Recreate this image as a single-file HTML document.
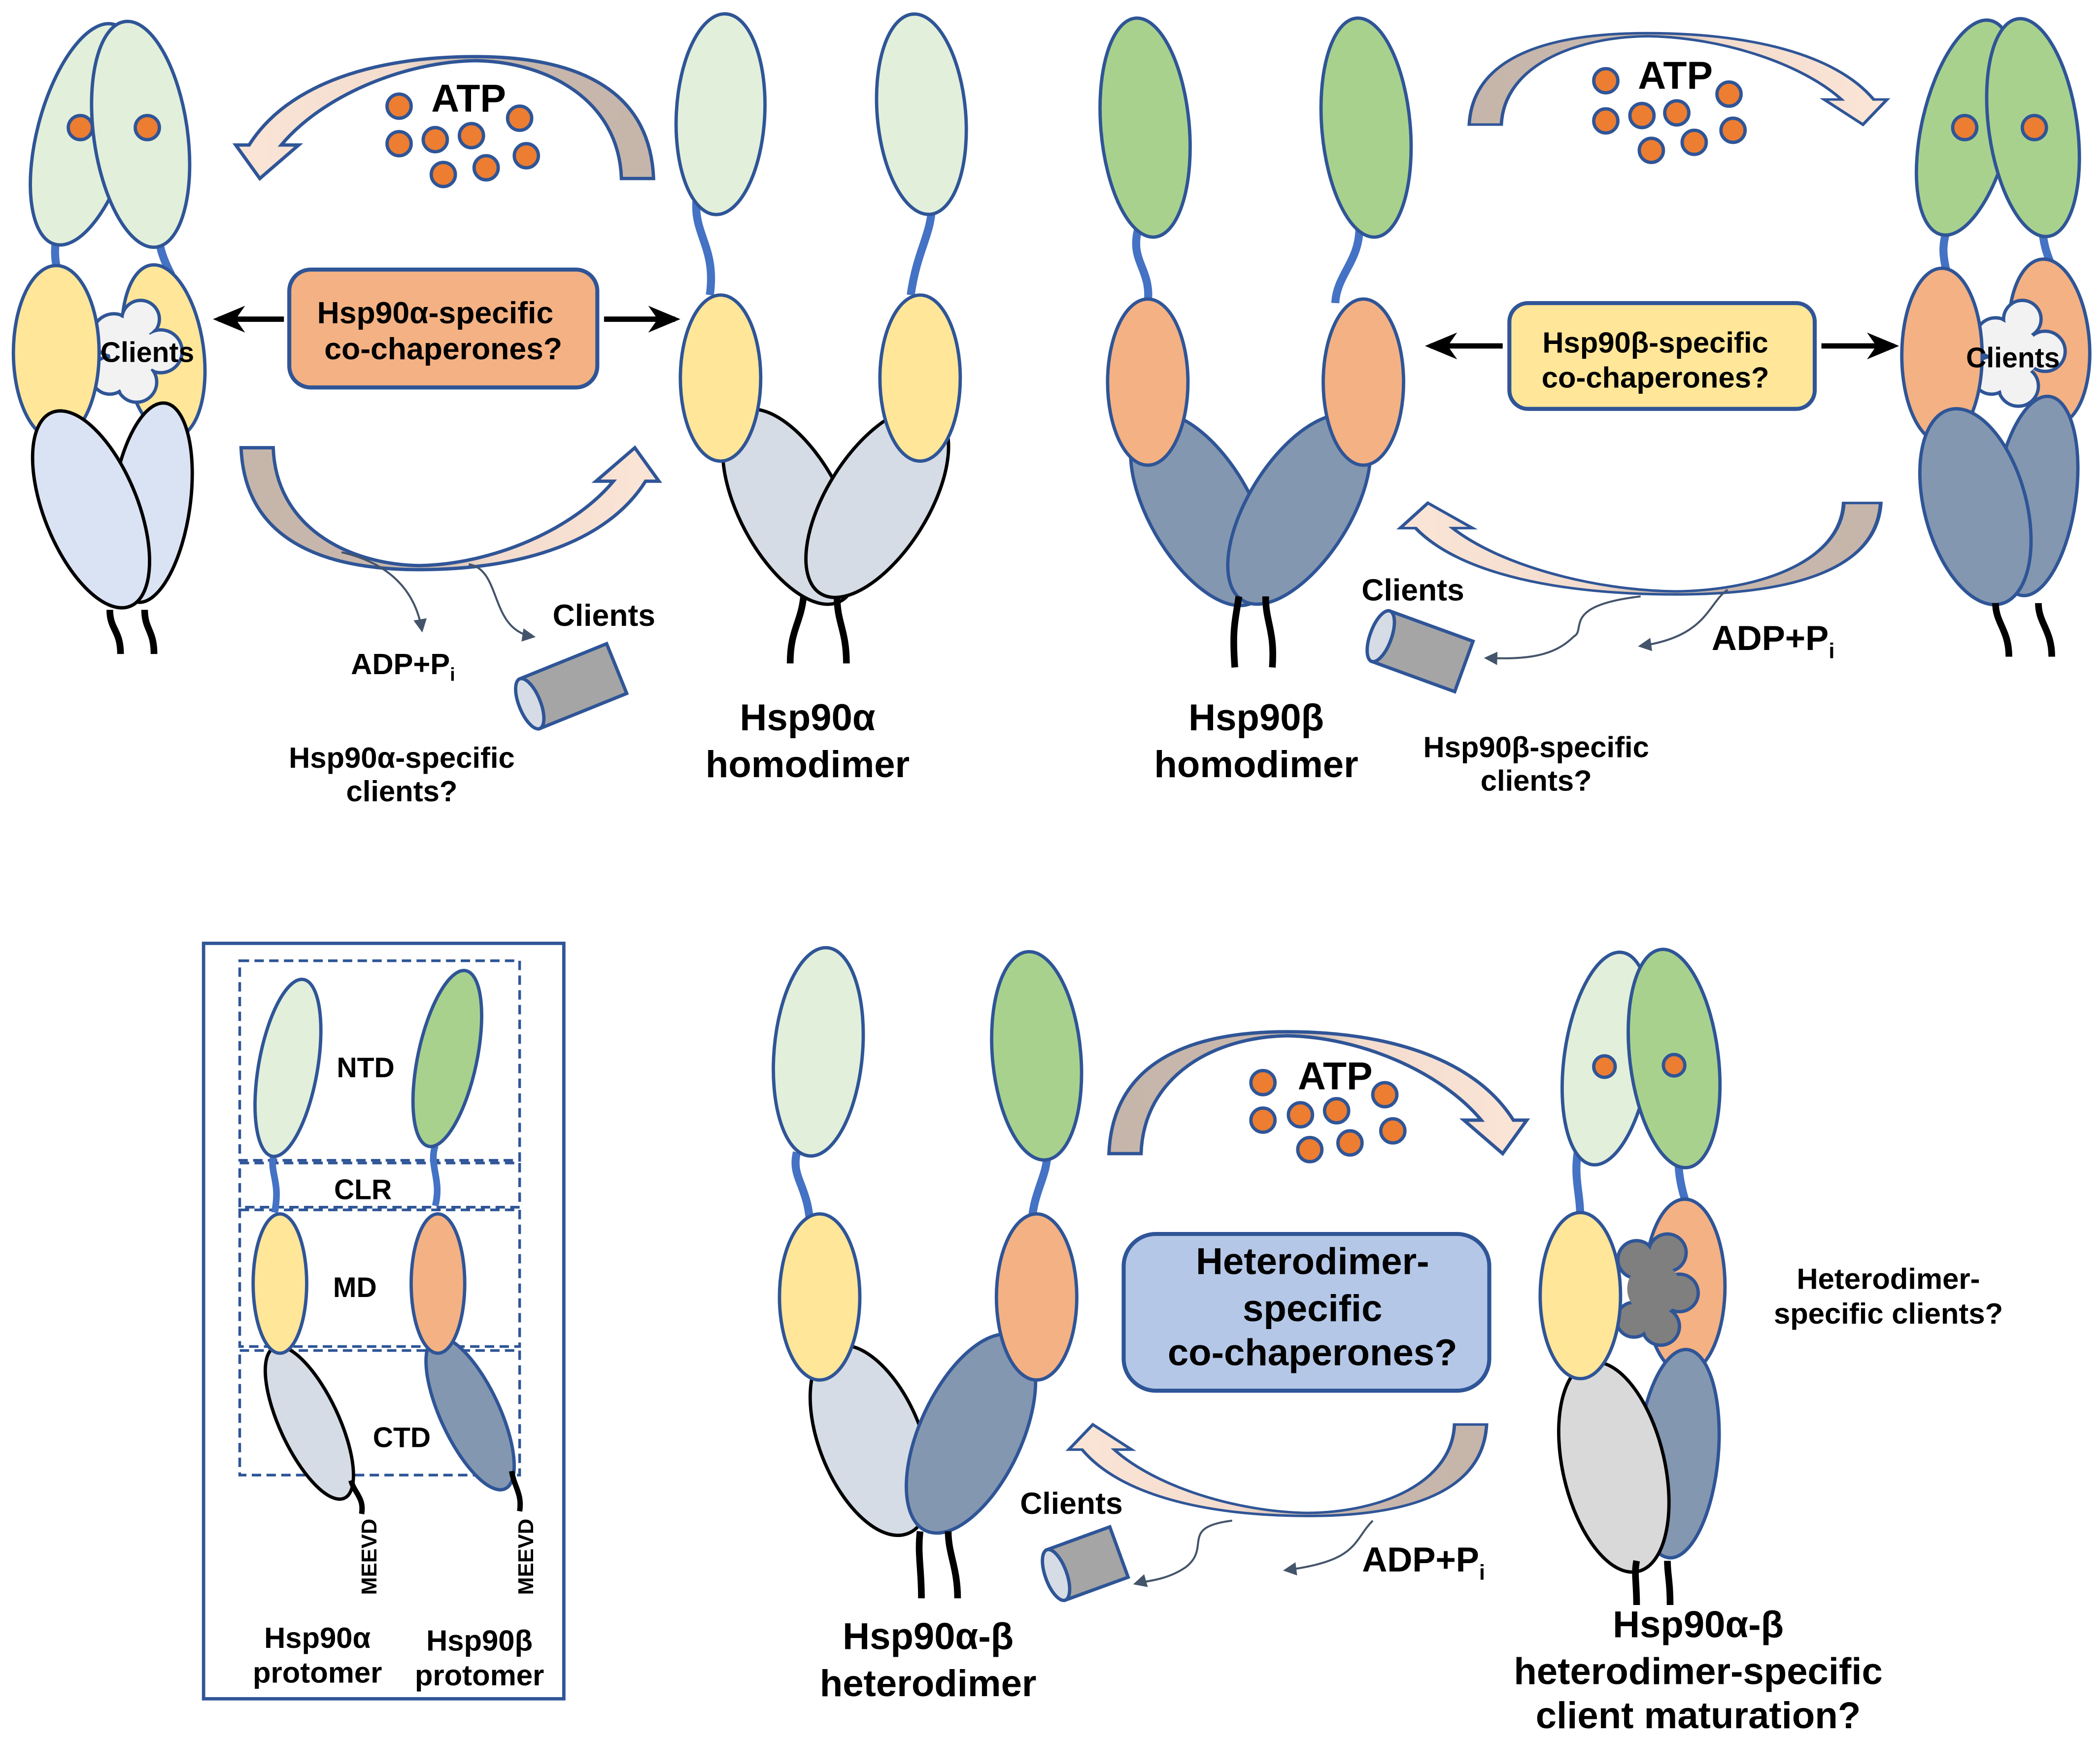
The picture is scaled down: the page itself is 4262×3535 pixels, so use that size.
<!DOCTYPE html>
<html><head><meta charset="utf-8"><style>
html,body{margin:0;padding:0;background:#fff;}
svg{display:block;}
text{font-family:"Liberation Sans",sans-serif;font-weight:bold;fill:#000;}
</style></head><body>
<svg width="4262" height="3535" viewBox="0 0 1568 1300" xmlns="http://www.w3.org/2000/svg">
<defs>
<linearGradient id="g1" x1="1" y1="0" x2="0" y2="0">
<stop offset="0" stop-color="#c6b5aa"/><stop offset="0.45" stop-color="#c9b8ad"/><stop offset="0.6" stop-color="#f3dccd"/><stop offset="1" stop-color="#fbe5d6"/>
</linearGradient>
<g id="arc">
<path d="M488,133 C485,60 420,42 355,42 C280,42 215,62 186,108 L176,108 L194,133 L223,108 L210,108 C240,72 300,46 355,45 C410,46 462,75 464,133 Z" fill="url(#g1)" stroke="#2f5597" stroke-width="2.5" stroke-linejoin="miter"/>
</g>
<marker id="ah" markerWidth="10" markerHeight="10" refX="8" refY="5" orient="auto" markerUnits="userSpaceOnUse"><path d="M0,0 L10,5 L0,10 Z" fill="#44546a"/></marker>
<marker id="bk" markerWidth="24" markerHeight="20" refX="20" refY="10" orient="auto" markerUnits="userSpaceOnUse"><path d="M0,0 L24,10 L0,20 L7,10 Z" fill="#000"/></marker>
</defs>
<g stroke="#2f5597" stroke-width="2.5">

<!-- ===== Panel 1: alpha closed ===== -->
<path d="M45,168 C38,185 42,200 45,210 M118,168 C118,180 120,190 128,205" fill="none" stroke="#4472c4" stroke-width="6"/>
<ellipse cx="63" cy="100" rx="35" ry="85" transform="rotate(15 63 100)" fill="#e2efda"/>
<ellipse cx="105" cy="100" rx="35" ry="85" transform="rotate(-8 105 100)" fill="#e2efda"/>
<circle cx="60" cy="95" r="9" fill="#ed7d31"/><circle cx="110" cy="95" r="9" fill="#ed7d31"/>
<ellipse cx="122" cy="262" rx="30" ry="65" transform="rotate(-8 122 262)" fill="#ffe699"/>
<g fill="#f2f2f2"><circle cx="85" cy="250" r="16"/><circle cx="105" cy="238" r="14"/><circle cx="120" cy="262" r="16"/><circle cx="102" cy="285" r="15"/><circle cx="82" cy="280" r="14"/></g>
<g fill="#f2f2f2" stroke="none"><circle cx="85" cy="250" r="14.5"/><circle cx="105" cy="238" r="12.5"/><circle cx="120" cy="262" r="14.5"/><circle cx="102" cy="285" r="13.5"/><circle cx="82" cy="280" r="12.5"/><circle cx="100" cy="263" r="18"/></g>
<ellipse cx="42" cy="263" rx="32" ry="65" fill="#ffe699"/>
<g stroke="#000"><ellipse cx="113" cy="375" rx="29" ry="75" transform="rotate(8 113 375)" fill="#dae3f3"/>
<ellipse cx="68" cy="380" rx="35" ry="78" transform="rotate(-22 68 380)" fill="#dae3f3"/></g>
<path d="M82,455 C82,470 90,470 90,488 M108,455 C108,470 115,470 115,488" fill="none" stroke="#000" stroke-width="5"/>

<!-- ===== Panel 2: alpha open ===== -->
<path d="M520,150 C518,175 535,185 530,220 M696,150 C696,175 685,185 680,220" fill="none" stroke="#4472c4" stroke-width="6"/>
<ellipse cx="538" cy="85" rx="33" ry="75" transform="rotate(3 538 85)" fill="#e2efda"/>
<ellipse cx="688" cy="85" rx="33" ry="75" transform="rotate(-5 688 85)" fill="#e2efda"/>
<g stroke="#000"><ellipse cx="590" cy="378" rx="38" ry="80" transform="rotate(-28 590 378)" fill="#d6dce5"/>
<ellipse cx="655" cy="375" rx="38" ry="80" transform="rotate(32 655 375)" fill="#d6dce5"/></g>
<ellipse cx="538" cy="282" rx="30" ry="62" fill="#ffe699"/>
<ellipse cx="687" cy="282" rx="30" ry="62" fill="#ffe699"/>
<path d="M600,445 C598,465 590,470 590,495 M625,445 C625,465 632,470 632,495" fill="none" stroke="#000" stroke-width="5"/>

<!-- ===== Panel 3: beta open ===== -->
<path d="M850,170 C843,195 860,200 857,226 M1015,170 C1015,195 998,205 997,226" fill="none" stroke="#4472c4" stroke-width="6"/>
<ellipse cx="855" cy="95" rx="33" ry="82" transform="rotate(-5 855 95)" fill="#a9d18e"/>
<ellipse cx="1020" cy="95" rx="33" ry="82" transform="rotate(-5 1020 95)" fill="#a9d18e"/>
<ellipse cx="896" cy="380" rx="38" ry="80" transform="rotate(-30 896 380)" fill="#8497b0"/>
<ellipse cx="970" cy="380" rx="38" ry="80" transform="rotate(32 970 380)" fill="#8497b0"/>
<ellipse cx="857" cy="285" rx="30" ry="62" fill="#f4b183"/>
<ellipse cx="1018" cy="285" rx="30" ry="62" fill="#f4b183"/>
<path d="M925,445 C922,465 920,470 922,498 M945,445 C945,465 952,470 950,498" fill="none" stroke="#000" stroke-width="5"/>

<!-- ===== Panel 4: beta closed ===== -->
<path d="M1455,168 C1448,185 1452,195 1455,210 M1525,168 C1525,180 1528,190 1535,205" fill="none" stroke="#4472c4" stroke-width="6"/>
<ellipse cx="1468" cy="95" rx="33" ry="82" transform="rotate(13 1468 95)" fill="#a9d18e"/>
<ellipse cx="1518" cy="95" rx="33" ry="82" transform="rotate(-8 1518 95)" fill="#a9d18e"/>
<circle cx="1467" cy="95" r="9" fill="#ed7d31"/><circle cx="1519" cy="95" r="9" fill="#ed7d31"/>
<ellipse cx="1530" cy="255" rx="30" ry="62" transform="rotate(-5 1530 255)" fill="#f4b183"/>
<g fill="#f2f2f2"><circle cx="1490" cy="252" r="15"/><circle cx="1510" cy="238" r="14"/><circle cx="1527" cy="262" r="15"/><circle cx="1507" cy="288" r="15"/><circle cx="1487" cy="280" r="14"/></g>
<g fill="#f2f2f2" stroke="none"><circle cx="1490" cy="252" r="13.5"/><circle cx="1510" cy="238" r="12.5"/><circle cx="1527" cy="262" r="13.5"/><circle cx="1507" cy="288" r="13.5"/><circle cx="1487" cy="280" r="12.5"/><circle cx="1505" cy="263" r="18"/></g>
<ellipse cx="1450" cy="265" rx="30" ry="65" fill="#f4b183"/>
<ellipse cx="1520" cy="370" rx="30" ry="75" transform="rotate(8 1520 370)" fill="#8497b0"/>
<ellipse cx="1475" cy="378" rx="38" ry="75" transform="rotate(-15 1475 378)" fill="#8497b0"/>
<path d="M1490,450 C1490,465 1500,470 1500,490 M1522,450 C1522,465 1532,470 1532,490" fill="none" stroke="#000" stroke-width="5"/>

<!-- arcs -->
<use href="#arc"/>
<use href="#arc" transform="translate(668,467) rotate(180)"/>
<use href="#arc" transform="translate(1585,-7) scale(-1,0.75)"/>
<use href="#arc" transform="translate(1065,475) scale(1.15,-0.75) translate(-193,0)"/>
<use href="#arc" transform="translate(1316,728) scale(-1,1)"/>
<use href="#arc" transform="translate(622,1163) scale(1,-0.75)"/>

<!-- ATP dots -->
<g fill="#ed7d31">
<circle cx="298" cy="79" r="9"/><circle cx="388" cy="88" r="9"/><circle cx="298" cy="107" r="9"/><circle cx="325" cy="104" r="9"/><circle cx="352" cy="101" r="9"/><circle cx="393" cy="116" r="9"/><circle cx="331" cy="130" r="9"/><circle cx="363" cy="125" r="9"/>
<circle cx="1199" cy="60" r="9"/><circle cx="1291" cy="70" r="9"/><circle cx="1199" cy="90" r="9"/><circle cx="1226" cy="86" r="9"/><circle cx="1252" cy="84" r="9"/><circle cx="1294" cy="97" r="9"/><circle cx="1233" cy="112" r="9"/><circle cx="1265" cy="106" r="9"/>
<circle cx="943" cy="808" r="9"/><circle cx="1034" cy="817" r="9"/><circle cx="943" cy="836" r="9"/><circle cx="971" cy="832" r="9"/><circle cx="998" cy="829" r="9"/><circle cx="1040" cy="844" r="9"/><circle cx="978" cy="858" r="9"/><circle cx="1008" cy="853" r="9"/>
</g>

<!-- boxes -->
<rect x="216" y="201" width="230" height="88" rx="16" fill="#f4b183" stroke-width="3"/>
<rect x="1127" y="226" width="228" height="79" rx="14" fill="#ffe699" stroke-width="3"/>
<rect x="839" y="921" width="273" height="117" rx="24" fill="#b4c7e7" stroke-width="3"/>

<!-- cylinders -->
<g transform="translate(428,512) rotate(-22)"><rect x="-35" y="-20" width="70" height="40" fill="#a5a5a5"/><ellipse cx="-35" cy="0" rx="8" ry="20" fill="#d6dce5"/></g>
<g transform="translate(1062,486) rotate(20)"><rect x="-33" y="-20" width="66" height="40" fill="#a5a5a5"/><ellipse cx="-33" cy="0" rx="8" ry="20" fill="#d6dce5"/></g>
<g transform="translate(812,1167) rotate(-20)"><rect x="-25" y="-20" width="50" height="40" fill="#a5a5a5"/><ellipse cx="-25" cy="0" rx="8" ry="20" fill="#d6dce5"/></g>

<!-- ===== Heterodimer open ===== -->
<path d="M595,860 C590,880 605,885 605,920 M782,860 C782,880 770,890 770,920" fill="none" stroke="#4472c4" stroke-width="6"/>
<ellipse cx="611" cy="785" rx="33" ry="78" transform="rotate(5 611 785)" fill="#e2efda"/>
<ellipse cx="774" cy="788" rx="33" ry="78" transform="rotate(-5 774 788)" fill="#a9d18e"/>
<ellipse cx="650" cy="1075" rx="38" ry="75" transform="rotate(-22 650 1075)" fill="#d6dce5" stroke="#000"/>
<ellipse cx="725" cy="1070" rx="38" ry="80" transform="rotate(25 725 1070)" fill="#8497b0"/>
<ellipse cx="612" cy="968" rx="30" ry="62" fill="#ffe699"/>
<ellipse cx="774" cy="968" rx="30" ry="62" fill="#f4b183"/>
<path d="M687,1143 C685,1160 688,1170 688,1193 M708,1143 C708,1160 715,1170 715,1193" fill="none" stroke="#000" stroke-width="5"/>

<!-- ===== Heterodimer closed ===== -->
<path d="M1178,860 C1175,880 1180,890 1180,910 M1253,860 C1253,875 1255,885 1258,895" fill="none" stroke="#4472c4" stroke-width="6"/>
<ellipse cx="1200" cy="790" rx="32" ry="80" transform="rotate(8 1200 790)" fill="#e2efda"/>
<ellipse cx="1250" cy="790" rx="33" ry="82" transform="rotate(-7 1250 790)" fill="#a9d18e"/>
<circle cx="1198" cy="796" r="8" fill="#ed7d31"/><circle cx="1250" cy="795" r="8" fill="#ed7d31"/>
<ellipse cx="1258" cy="960" rx="30" ry="65" fill="#f4b183"/>
<g fill="#7f7f7f"><circle cx="1222" cy="940" r="14"/><circle cx="1245" cy="935" r="14"/><circle cx="1254" cy="965" r="14"/><circle cx="1240" cy="990" r="14"/><circle cx="1220" cy="985" r="13"/></g>
<g fill="#7f7f7f" stroke="none"><circle cx="1222" cy="940" r="12.5"/><circle cx="1245" cy="935" r="12.5"/><circle cx="1254" cy="965" r="12.5"/><circle cx="1240" cy="990" r="12.5"/><circle cx="1220" cy="985" r="11.5"/><circle cx="1235" cy="962" r="20"/></g>
<ellipse cx="1253" cy="1085" rx="30" ry="78" transform="rotate(5 1253 1085)" fill="#8497b0"/>
<ellipse cx="1205" cy="1095" rx="38" ry="80" transform="rotate(-13 1205 1095)" fill="#d9d9d9" stroke="#000"/>
<ellipse cx="1180" cy="967" rx="30" ry="62" fill="#ffe699"/>
<path d="M1222,1165 C1220,1175 1222,1180 1222,1198 M1245,1165 C1245,1175 1247,1180 1247,1198" fill="none" stroke="#000" stroke-width="5"/>

<!-- ===== Legend ===== -->
<rect x="152" y="704" width="269" height="564" fill="none"/>
<g fill="none" stroke="#2f5597" stroke-width="2" stroke-dasharray="7,4">
<rect x="179" y="717" width="209" height="149"/>
<rect x="179" y="868" width="209" height="33"/>
<rect x="179" y="903" width="209" height="102"/>
<rect x="179" y="1008" width="209" height="93"/>
</g>
<path d="M205,860 C200,875 210,880 205,905 M325,855 C320,870 330,880 325,900" fill="none" stroke="#4472c4" stroke-width="5"/>
<ellipse cx="215" cy="797" rx="22" ry="67" transform="rotate(10 215 797)" fill="#e2efda"/>
<ellipse cx="334" cy="790" rx="22" ry="67" transform="rotate(12 334 790)" fill="#a9d18e"/>
<ellipse cx="231" cy="1062" rx="22" ry="62" transform="rotate(-25 231 1062)" fill="#d6dce5" stroke="#000"/>
<ellipse cx="351" cy="1055" rx="22" ry="62" transform="rotate(-25 351 1055)" fill="#8497b0"/>
<ellipse cx="209" cy="958" rx="20" ry="52" fill="#ffe699"/>
<ellipse cx="327" cy="958" rx="20" ry="52" fill="#f4b183"/>
<path d="M262,1105 C265,1115 272,1118 270,1130 M382,1098 C384,1110 390,1115 388,1128" fill="none" stroke="#000" stroke-width="4"/>
</g>

<!-- thin arrows -->
<g fill="none" stroke="#44546a" stroke-width="1.5">
<path d="M255,412 C290,420 310,440 315,470" marker-end="url(#ah)"/>
<path d="M350,421 C375,425 365,470 398,475" marker-end="url(#ah)"/>
<path d="M1225,445 C1165,452 1185,470 1175,475 C1160,490 1140,492 1110,491" marker-end="url(#ah)"/>
<path d="M1290,440 C1275,450 1275,475 1225,482" marker-end="url(#ah)"/>
<path d="M920,1135 C880,1140 905,1155 885,1170 C870,1180 855,1180 848,1182" marker-end="url(#ah)"/>
<path d="M1025,1135 C1010,1150 1015,1165 960,1172" marker-end="url(#ah)"/>
</g>
<!-- black arrows -->
<g stroke="#000" stroke-width="4">
<line x1="212" y1="238" x2="163" y2="238" marker-end="url(#bk)"/>
<line x1="451" y1="238" x2="504" y2="238" marker-end="url(#bk)"/>
<line x1="1122" y1="258" x2="1068" y2="258" marker-end="url(#bk)"/>
<line x1="1360" y1="258" x2="1414" y2="258" marker-end="url(#bk)"/>
</g>

<!-- text -->
<text x="322" y="83" font-size="29">ATP</text>
<text x="1223" y="66" font-size="29">ATP</text>
<text x="969" y="813" font-size="29">ATP</text>
<text x="325" y="241" font-size="23" text-anchor="middle">Hsp90α-specific</text>
<text x="331" y="268" font-size="23" text-anchor="middle">co-chaperones?</text>
<text x="1236" y="263" font-size="22" text-anchor="middle">Hsp90β-specific</text>
<text x="1236" y="289" font-size="22" text-anchor="middle">co-chaperones?</text>
<text x="980" y="951" font-size="28" text-anchor="middle">Heterodimer-</text>
<text x="980" y="986" font-size="28" text-anchor="middle">specific</text>
<text x="980" y="1019" font-size="28" text-anchor="middle">co-chaperones?</text>
<text x="110" y="270" font-size="21" text-anchor="middle">Clients</text>
<text x="1503" y="274" font-size="21" text-anchor="middle">Clients</text>
<text x="451" y="467" font-size="23" text-anchor="middle">Clients</text>
<text x="1055" y="448" font-size="23" text-anchor="middle">Clients</text>
<text x="800" y="1130" font-size="23" text-anchor="middle">Clients</text>
<text x="262" y="503" font-size="22">ADP+P<tspan font-size="14" dy="5">i</tspan></text>
<text x="1278" y="485" font-size="26">ADP+P<tspan font-size="16" dy="6">i</tspan></text>
<text x="1017" y="1173" font-size="26">ADP+P<tspan font-size="16" dy="6">i</tspan></text>
<text x="300" y="573" font-size="22" text-anchor="middle">Hsp90α-specific</text>
<text x="300" y="598" font-size="22" text-anchor="middle">clients?</text>
<text x="1147" y="565" font-size="22" text-anchor="middle">Hsp90β-specific</text>
<text x="1147" y="590" font-size="22" text-anchor="middle">clients?</text>
<text x="603" y="545" font-size="28" text-anchor="middle">Hsp90α</text>
<text x="603" y="580" font-size="28" text-anchor="middle">homodimer</text>
<text x="938" y="545" font-size="28" text-anchor="middle">Hsp90β</text>
<text x="938" y="580" font-size="28" text-anchor="middle">homodimer</text>
<text x="693" y="1231" font-size="28" text-anchor="middle">Hsp90α-β</text>
<text x="693" y="1266" font-size="28" text-anchor="middle">heterodimer</text>
<text x="1268" y="1222" font-size="28" text-anchor="middle">Hsp90α-β</text>
<text x="1268" y="1257" font-size="28" text-anchor="middle">heterodimer-specific</text>
<text x="1268" y="1290" font-size="28" text-anchor="middle">client maturation?</text>
<text x="1410" y="962" font-size="22" text-anchor="middle">Heterodimer-</text>
<text x="1410" y="988" font-size="22" text-anchor="middle">specific clients?</text>
<text x="273" y="804" font-size="21" text-anchor="middle">NTD</text>
<text x="271" y="895" font-size="21" text-anchor="middle">CLR</text>
<text x="265" y="968" font-size="21" text-anchor="middle">MD</text>
<text x="300" y="1080" font-size="21" text-anchor="middle">CTD</text>
<text transform="translate(281,1162) rotate(-90)" font-size="16" text-anchor="middle">MEEVD</text>
<text transform="translate(398,1162) rotate(-90)" font-size="16" text-anchor="middle">MEEVD</text>
<text x="237" y="1230" font-size="22" text-anchor="middle">Hsp90α</text>
<text x="237" y="1256" font-size="22" text-anchor="middle">protomer</text>
<text x="358" y="1232" font-size="22" text-anchor="middle">Hsp90β</text>
<text x="358" y="1258" font-size="22" text-anchor="middle">protomer</text>
</svg>
</body></html>
